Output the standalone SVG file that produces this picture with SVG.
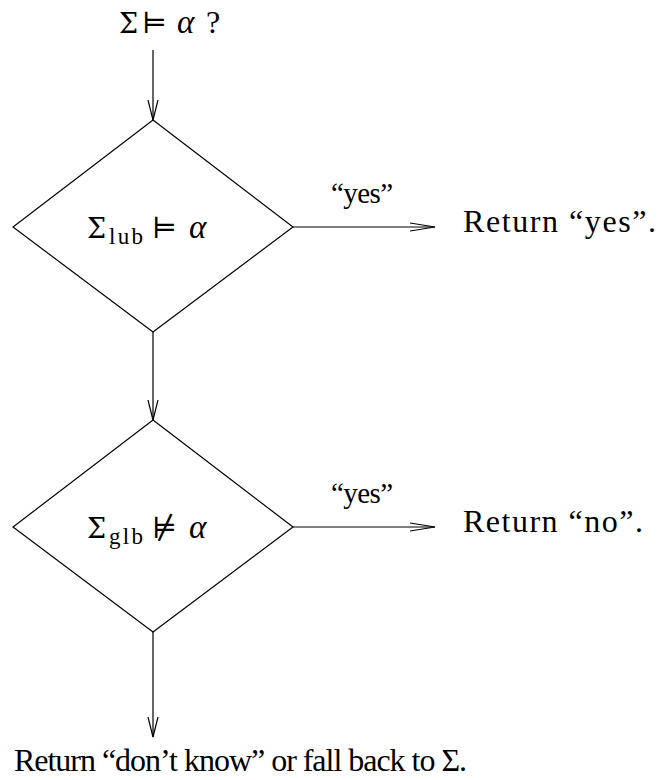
<svg xmlns="http://www.w3.org/2000/svg" width="658" height="780" viewBox="0 0 658 780">
<style>
.t{font-family:"Liberation Serif","DejaVu Serif",serif;font-size:32px;fill:#000}
.l{font-family:"Liberation Serif","DejaVu Serif",serif;font-size:29px;fill:#000}
.g{font-family:"DejaVu Serif","Liberation Serif",serif;font-size:27px;fill:#000}
.s{font-family:"DejaVu Serif","Liberation Serif",serif;font-size:29px;fill:#000}
.i{font-family:"Liberation Serif","DejaVu Serif",serif;font-style:italic;font-size:33px;fill:#000}
.sub{font-family:"Liberation Serif","DejaVu Serif",serif;font-size:23px;fill:#000}
.shape{fill:#fff;stroke:#000;stroke-width:1.2}
.conn{fill:none;stroke:#000;stroke-width:1.2}
</style>
<defs>
<marker id="ah" markerUnits="userSpaceOnUse" markerWidth="30" markerHeight="14" refX="25" refY="7" orient="auto">
<path d="M0,3 L25,7 L0,11" fill="none" stroke="#000" stroke-width="1.2"/>
</marker>
<marker id="av" markerUnits="userSpaceOnUse" markerWidth="24" markerHeight="14" refX="20" refY="7" orient="auto">
<path d="M0,2 L20,7 L0,12" fill="none" stroke="#000" stroke-width="1.2"/>
</marker>
</defs>
<g id="start">
<text class="g" x="119" y="33">Σ</text>
<text class="s" x="142" y="33">⊨</text>
<text class="i" x="177" y="33">α</text>
<text class="t" x="206" y="33">?</text>
</g>
<g id="connectors">
<line class="conn" x1="153" y1="50" x2="153" y2="120" marker-end="url(#av)"/>
<line class="conn" x1="153" y1="332" x2="153" y2="420" marker-end="url(#av)"/>
<line class="conn" x1="153" y1="632" x2="153" y2="737" marker-end="url(#av)"/>
<line class="conn" x1="293" y1="227" x2="435" y2="227" marker-end="url(#ah)"/>
<line class="conn" x1="293" y1="527" x2="435" y2="527" marker-end="url(#ah)"/>
<text class="l" x="331" y="203" textLength="62">“yes”</text>
<text class="l" x="331" y="503" textLength="62">“yes”</text>
</g>
<g id="lub">
<polygon class="shape" points="153,120 293,227 153,332 13,227"/>
<text class="g" x="87" y="238">Σ</text>
<text class="sub" x="109" y="244" textLength="34">lub</text>
<text class="s" x="152" y="238">⊨</text>
<text class="i" x="189" y="238">α</text>
</g>
<g id="glb">
<polygon class="shape" points="153,420 293,527 153,632 13,527"/>
<text class="g" x="87" y="538">Σ</text>
<text class="sub" x="109" y="544" textLength="34">glb</text>
<text class="s" x="152" y="538">⊭</text>
<text class="i" x="189" y="538">α</text>
</g>
<g id="ret-yes">
<text class="t" x="463" y="232" textLength="193">Return “yes”.</text>
</g>
<g id="ret-no">
<text class="t" x="463" y="532" textLength="180">Return “no”.</text>
</g>
<g id="ret-unknown">
<text class="t" x="14" y="771" textLength="453">Return “don’t know” or fall back to Σ.</text>
</g>
</svg>
